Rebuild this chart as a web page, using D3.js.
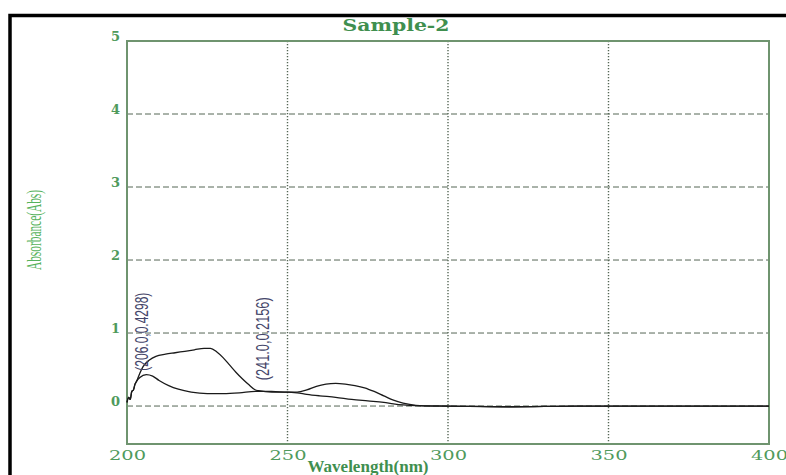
<!DOCTYPE html>
<html>
<head>
<meta charset="utf-8">
<script src="https://cdn.jsdelivr.net/npm/d3@7"></script>
<style>
  body { margin: 0; background: #fff; }
  svg { display: block; }
</style>
</head>
<body>
<svg width="786" height="475"></svg>
<script>
// curve with the broad plateau (peak near 225 nm)
var waveA = [200, 200.5, 201, 201.5, 202, 202.5, 203, 204, 205, 207, 209, 212, 215, 218, 221, 224, 226, 228, 230, 232, 234, 236, 238, 240, 241, 245, 250, 253, 256, 260, 265, 270, 275, 280, 283, 286, 290, 300, 320, 340, 360, 380, 400];
var absA  = [0.05, 0.12, 0.09, 0.20, 0.22, 0.30, 0.34, 0.45, 0.54, 0.63, 0.68, 0.71, 0.73, 0.75, 0.77, 0.79, 0.79, 0.74, 0.66, 0.56, 0.46, 0.37, 0.29, 0.22, 0.21, 0.19, 0.19, 0.18, 0.16, 0.14, 0.12, 0.09, 0.07, 0.05, 0.03, 0.015, 0.005, 0.0, -0.01, 0.0, 0.0, 0.0, 0.0];

// curve with the small peaks (206 nm and ~266 nm)
var waveB = [200, 200.5, 201, 201.5, 202, 202.5, 203, 204, 206, 208, 210, 213, 216, 220, 225, 230, 235, 240, 245, 250, 253, 256, 259, 262, 265, 268, 271, 274, 277, 280, 283, 286, 290, 295, 300, 320, 340, 400];
var absB  = [0.05, 0.12, 0.09, 0.20, 0.22, 0.30, 0.34, 0.39, 0.43, 0.41, 0.35, 0.28, 0.23, 0.19, 0.17, 0.17, 0.18, 0.20, 0.20, 0.19, 0.19, 0.22, 0.27, 0.30, 0.31, 0.30, 0.28, 0.25, 0.20, 0.14, 0.08, 0.04, 0.01, 0.0, 0.0, -0.01, 0.0, 0.0];

var xTicks = [200, 250, 300, 350, 400];
var yTicks = [0, 1, 2, 3, 4, 5];

var peakLabels = ["(206.0,0.4298)", "(241.0,0.2156)"];
var peakWave = [206.0, 241.0];
var peakAbs = [0.4298, 0.2156];

var svg = d3.select("svg");

var plotL = 127, plotR = 769, plotT = 41, plotB = 444;

var x = d3.scaleLinear().domain([200, 400]).range([plotL, plotR]);
var y = d3.scaleLinear().domain([-0.52, 5]).range([plotB, plotT]);

// outer black frame (image is cropped on the right and bottom)
svg.append("rect")
  .attr("x", 10).attr("y", 15.5)
  .attr("width", 800).attr("height", 500)
  .attr("fill", "none")
  .attr("stroke", "#000")
  .attr("stroke-width", 3.5);

// grid: horizontal dashed
svg.append("g")
  .selectAll("line")
  .data(yTicks.filter(function(d) { return d < 5; }))
  .enter()
  .append("line")
  .attr("x1", plotL).attr("x2", plotR)
  .attr("y1", function(d) { return y(d); })
  .attr("y2", function(d) { return y(d); })
  .attr("stroke", "#556655")
  .attr("stroke-width", 1)
  .attr("stroke-dasharray", "6,3");

// grid: vertical dotted
svg.append("g")
  .selectAll("line")
  .data(xTicks.filter(function(d) { return d > 200 && d < 400; }))
  .enter()
  .append("line")
  .attr("x1", function(d) { return x(d); })
  .attr("x2", function(d) { return x(d); })
  .attr("y1", plotT).attr("y2", plotB)
  .attr("stroke", "#556655")
  .attr("stroke-width", 1.4)
  .attr("stroke-dasharray", "1.3,1.7");

// plot frame
svg.append("rect")
  .attr("x", plotL).attr("y", plotT)
  .attr("width", plotR - plotL).attr("height", plotB - plotT)
  .attr("fill", "none")
  .attr("stroke", "#6f946f")
  .attr("stroke-width", 2);

// axes (labels only)
var xAxis = svg.append("g")
  .attr("transform", "translate(0," + plotB + ")")
  .call(d3.axisBottom(x).tickValues(xTicks).tickSize(0).tickPadding(16));
xAxis.select(".domain").remove();
xAxis.selectAll("text")
  .attr("dy", "0")
  .attr("font-family", "DejaVu Serif")
  .attr("font-size", 12)
  .attr("fill", "#4f9a5c")
  .attr("textLength", 37)
  .attr("lengthAdjust", "spacingAndGlyphs");

var yAxis = svg.append("g")
  .attr("transform", "translate(" + plotL + ",0)")
  .call(d3.axisLeft(y).tickValues(yTicks).tickFormat(d3.format("d")).tickSize(0).tickPadding(7));
yAxis.select(".domain").remove();
yAxis.selectAll("text")
  .attr("dy", "-1")
  .attr("font-family", "DejaVu Serif")
  .attr("font-weight", "bold")
  .attr("font-size", 13)
  .attr("fill", "#4f9a5c");

// titles
svg.append("text")
  .attr("x", 396).attr("y", 31)
  .attr("text-anchor", "middle")
  .attr("font-family", "DejaVu Serif")
  .attr("font-weight", "bold")
  .attr("font-size", 16)
  .attr("fill", "#3f8f4f")
  .attr("textLength", 107)
  .attr("lengthAdjust", "spacingAndGlyphs")
  .text("Sample-2");

svg.append("text")
  .attr("x", 368).attr("y", 472)
  .attr("text-anchor", "middle")
  .attr("font-family", "Liberation Serif")
  .attr("font-weight", "bold")
  .attr("font-size", 17)
  .attr("fill", "#3f8f4f")
  .attr("textLength", 121)
  .attr("lengthAdjust", "spacingAndGlyphs")
  .text("Wavelength(nm)");

svg.append("text")
  .attr("transform", "translate(41,230) rotate(-90)")
  .attr("text-anchor", "middle")
  .attr("font-family", "Liberation Serif")
  .attr("font-size", 22)
  .attr("fill", "#56b25c")
  .attr("textLength", 80)
  .attr("lengthAdjust", "spacingAndGlyphs")
  .text("Absorbance(Abs)");

// spectra
var line = d3.line()
  .x(function(d) { return x(d[0]); })
  .y(function(d) { return y(d[1]); })
  .curve(d3.curveMonotoneX);

svg.append("path")
  .datum(d3.zip(waveA, absA))
  .attr("d", line)
  .attr("fill", "none")
  .attr("stroke", "#1a1a1a")
  .attr("stroke-width", 1.3);

svg.append("path")
  .datum(d3.zip(waveB, absB))
  .attr("d", line)
  .attr("fill", "none")
  .attr("stroke", "#1a1a1a")
  .attr("stroke-width", 1.3);

// peak annotations, vertical
var offX = [2, 10];
var offY = [-4, -10];
var lens = [78, 83];
svg.append("g")
  .selectAll("text")
  .data(peakLabels)
  .enter()
  .append("text")
  .attr("transform", function(d, i) {
    return "translate(" + (x(peakWave[i]) + offX[i]) + "," + (y(peakAbs[i]) + offY[i]) + ") rotate(-90)";
  })
  .attr("font-family", "Liberation Sans")
  .attr("font-size", 19)
  .attr("fill", "#45466a")
  .attr("textLength", function(d, i) { return lens[i]; })
  .attr("lengthAdjust", "spacingAndGlyphs")
  .text(function(d) { return d; });
</script>
</body>
</html>
